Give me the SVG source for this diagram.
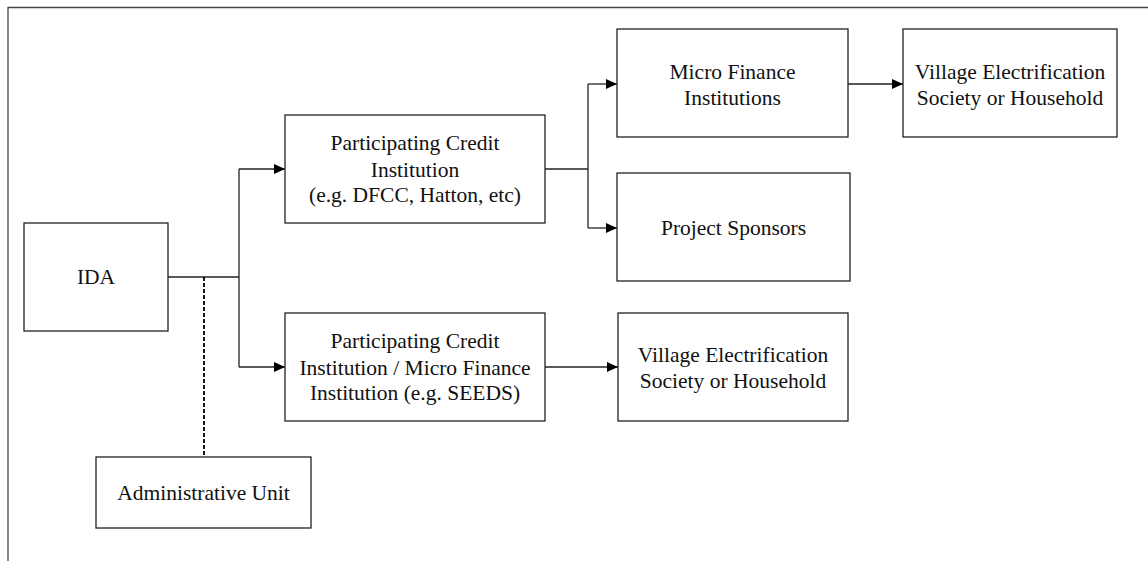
<svg xmlns="http://www.w3.org/2000/svg" width="1148" height="561" viewBox="0 0 1148 561">
<style>
.box{fill:#fff;stroke:#222;stroke-width:1.3}
.t{font-family:"Liberation Serif","Times New Roman",serif;font-size:21.5px;fill:#111;text-anchor:middle}
.c{fill:none;stroke:#222;stroke-width:1.3}
.d{fill:none;stroke:#000;stroke-width:1.8;stroke-dasharray:4,2}
</style>
<defs>
<marker id="ah" markerWidth="11" markerHeight="10" refX="11" refY="5" orient="auto" markerUnits="userSpaceOnUse">
<path d="M0,0 L11,5 L0,10 Z" fill="#000"/>
</marker>
</defs>
<rect width="1148" height="561" fill="#fff"/>
<path d="M8,561 V7.5 H1148" fill="none" stroke="#444" stroke-width="1.3"/>
<g id="connectors">
<path class="c" d="M168,277 H239"/>
<path class="c" d="M239,169 V367"/>
<path class="c" d="M239,169 H285" marker-end="url(#ah)"/>
<path class="c" d="M239,367 H285" marker-end="url(#ah)"/>
<path class="d" d="M204,277 V457"/>
<path class="c" d="M545,169 H588"/>
<path class="c" d="M588,84 V228"/>
<path class="c" d="M588,84 H617" marker-end="url(#ah)"/>
<path class="c" d="M588,228 H617" marker-end="url(#ah)"/>
<path class="c" d="M848,84 H903" marker-end="url(#ah)"/>
<path class="c" d="M545,367 H618" marker-end="url(#ah)"/>
</g>
<g id="ida"><rect class="box" x="24" y="223" width="144" height="108"/><text class="t" x="96" y="284">IDA</text></g>
<g id="admin"><rect class="box" x="96" y="457" width="215" height="71"/><text class="t" x="203.5" y="500">Administrative Unit</text></g>
<g id="pci1"><rect class="box" x="285" y="115" width="260" height="108"/>
<text class="t" x="415" y="150">Participating Credit</text>
<text class="t" x="415" y="177">Institution</text>
<text class="t" x="415" y="202">(e.g. DFCC, Hatton, etc)</text></g>
<g id="pci2"><rect class="box" x="285" y="313" width="260" height="108"/>
<text class="t" x="415" y="348">Participating Credit</text>
<text class="t" x="415" y="375">Institution / Micro Finance</text>
<text class="t" x="415" y="400">Institution (e.g. SEEDS)</text></g>
<g id="mfi"><rect class="box" x="617" y="29" width="231" height="108"/>
<text class="t" x="732.5" y="79">Micro Finance</text>
<text class="t" x="732.5" y="105">Institutions</text></g>
<g id="ves1"><rect class="box" x="903" y="29" width="214" height="108"/>
<text class="t" x="1010" y="79">Village Electrification</text>
<text class="t" x="1010" y="105">Society or Household</text></g>
<g id="ps"><rect class="box" x="617" y="173" width="233" height="108"/>
<text class="t" x="733.5" y="235">Project Sponsors</text></g>
<g id="ves2"><rect class="box" x="618" y="313" width="230" height="108"/>
<text class="t" x="733" y="362">Village Electrification</text>
<text class="t" x="733" y="388">Society or Household</text></g>
</svg>
